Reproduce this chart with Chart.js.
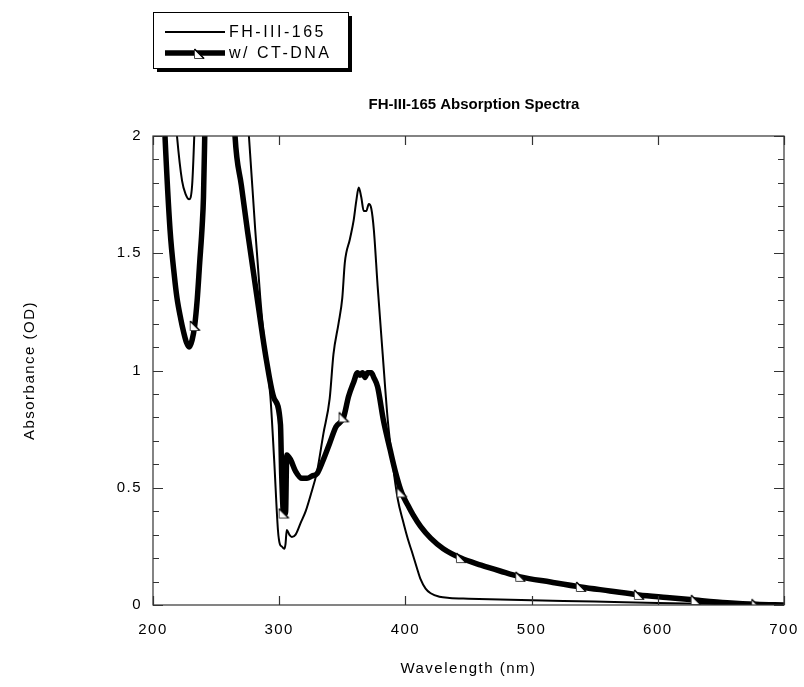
<!DOCTYPE html>
<html>
<head>
<meta charset="utf-8">
<script src="https://cdn.jsdelivr.net/npm/chart.js@4.4.1/dist/chart.umd.min.js"></script>
<style>
  html, body { margin: 0; padding: 0; background: #fff; }
</style>
</head>
<body>
<canvas id="spectraChart" width="804" height="687"></canvas>
<script>
// FH-III-165 alone
const fhWavelength = [212, 219, 223, 226, 228.6, 231, 232.7, 236, 250, 270, 276, 281, 285, 289, 293, 296, 299, 300.5, 302, 304, 305, 306, 308, 310, 313, 317, 321, 325, 330, 335, 340, 343, 347, 350, 352, 356, 359, 361, 363, 365, 367, 369, 371, 373, 375, 378, 382, 386, 390, 394, 398, 402, 405, 409, 412, 416, 420, 427, 435, 450, 500, 550, 600, 650, 700];
const fhAbs = [2.5, 2.0, 1.81, 1.75, 1.73, 1.79, 2.0, 2.6, 3.0, 2.4, 2.0, 1.6, 1.31, 1.08, 0.89, 0.62, 0.32, 0.26, 0.25, 0.24, 0.26, 0.32, 0.30, 0.29, 0.30, 0.35, 0.40, 0.47, 0.57, 0.73, 0.88, 1.07, 1.2, 1.31, 1.46, 1.56, 1.64, 1.72, 1.78, 1.74, 1.68, 1.68, 1.71, 1.69, 1.6, 1.36, 1.07, 0.79, 0.6, 0.45, 0.36, 0.28, 0.23, 0.16, 0.11, 0.07, 0.05, 0.035, 0.03, 0.027, 0.02, 0.015, 0.008, 0.004, 0.0];

// with CT-DNA
const dnaWavelength = [205, 209.5, 213.5, 217, 219, 222, 224, 226.5, 228.6, 231, 233, 235, 237, 239, 240, 241, 243, 255, 262, 265, 270, 275, 282.5, 290, 296, 301, 302, 303.5, 305, 306, 309, 313, 318, 322, 326, 330, 335, 340, 345, 351, 355, 359, 362, 364, 366, 368, 370, 373, 375, 378, 382.5, 388, 392, 397, 402, 406, 412, 420, 430, 444, 460, 475, 491, 515, 539, 562, 585, 607, 630, 655, 678, 700];
const dnaAbs = [2.6, 2.0, 1.6, 1.4, 1.31, 1.22, 1.17, 1.12, 1.10, 1.13, 1.19, 1.3, 1.46, 1.62, 1.74, 2.0, 2.6, 3.0, 2.4, 2.0, 1.79, 1.59, 1.31, 1.04, 0.88, 0.77, 0.55, 0.39, 0.39, 0.64, 0.62, 0.57, 0.54, 0.54, 0.55, 0.56, 0.62, 0.69, 0.76, 0.80, 0.89, 0.95, 0.99, 0.98, 0.99, 0.97, 0.99, 0.99, 0.97, 0.93, 0.79, 0.66, 0.57, 0.48, 0.425, 0.385, 0.335, 0.285, 0.24, 0.20, 0.17, 0.145, 0.12, 0.098, 0.077, 0.06, 0.043, 0.032, 0.021, 0.01, 0.003, 0.0];
const dnaMarkerWl = [233, 303.5, 351, 397, 444, 491, 539, 585, 630, 678];

const seriesLabels = ['FH-III-165', 'w/ CT-DNA'];
const chartTitle = 'FH-III-165 Absorption Spectra';
const xTickValues = [200, 300, 400, 500, 600, 700];
const yTickValues = [0, 0.5, 1, 1.5, 2];
const yTickLabels = ['0', '0.5', '1', '1.5', '2'];

const FONT = '"Liberation Sans", Arial, sans-serif';

function makeTriangle() {
    const c = document.createElement('canvas');
    c.width = 12;
    c.height = 12;
    const g = c.getContext('2d');
    g.beginPath();
    g.moveTo(1.5, 1);
    g.lineTo(1.5, 10.5);
    g.lineTo(11, 10.5);
    g.closePath();
    g.fillStyle = '#fff';
    g.fill();
    g.strokeStyle = '#444';
    g.lineWidth = 1;
    g.stroke();
    g.beginPath();
    g.moveTo(1.5, 1);
    g.lineTo(11, 10.5);
    g.strokeStyle = '#000';
    g.lineWidth = 1.5;
    g.stroke();
    return c;
}
const triangle = makeTriangle();

function toPoints(xs, ys) {
    return xs.map((x, i) => ({ x: x, y: ys[i] }));
}

// text spacing like the original print
const spacingPlugin = {
    id: 'spacing',
    beforeDraw(chart) {
        chart.ctx.letterSpacing = '1.5px';
    }
};

// box frame with inward ticks on all four sides
const framePlugin = {
    id: 'frame',
    afterDraw(chart) {
        const ctx = chart.ctx;
        const a = chart.chartArea;
        const xs = chart.scales.x;
        const ys = chart.scales.y;
        ctx.save();
        ctx.strokeStyle = '#333';
        ctx.lineWidth = 1.2;
        ctx.strokeRect(a.left, a.top, a.right - a.left, a.bottom - a.top);
        ctx.beginPath();
        xTickValues.forEach(v => {
            const px = Math.round(xs.getPixelForValue(v)) + 0.5;
            ctx.moveTo(px, a.bottom);
            ctx.lineTo(px, a.bottom - 9);
            ctx.moveTo(px, a.top);
            ctx.lineTo(px, a.top + 9);
        });
        for (let i = 0; i <= 20; i++) {
            const v = i / 10;
            const len = (i % 5 === 0) ? 10 : 6;
            const py = Math.round(ys.getPixelForValue(v)) + 0.5;
            ctx.moveTo(a.left, py);
            ctx.lineTo(a.left + len, py);
            ctx.moveTo(a.right, py);
            ctx.lineTo(a.right - len, py);
        }
        ctx.stroke();

        // title
        ctx.letterSpacing = '0px';
        ctx.font = 'bold 15px ' + FONT;
        ctx.fillStyle = '#000';
        ctx.textAlign = 'center';
        ctx.textBaseline = 'middle';
        ctx.fillText(chartTitle, 474, 105);
        ctx.restore();
    }
};

// legend box with drop shadow
const legendPlugin = {
    id: 'boxLegend',
    afterDraw(chart) {
        const ctx = chart.ctx;
        const bx = 153, by = 12, bw = 195, bh = 56;
        ctx.save();
        ctx.fillStyle = '#000';
        ctx.fillRect(bx + 4, by + 4, bw, bh);
        ctx.fillStyle = '#fff';
        ctx.fillRect(bx, by, bw, bh);
        ctx.strokeStyle = '#000';
        ctx.lineWidth = 1;
        ctx.strokeRect(bx + 0.5, by + 0.5, bw, bh);

        const ds = chart.data.datasets;
        const rows = [
            { y: 32, width: ds[1].borderWidth, text: ds[1].label, marker: false },
            { y: 53, width: ds[0].borderWidth, text: ds[0].label, marker: true }
        ];
        ctx.font = '16px ' + FONT;
        ctx.letterSpacing = '2.5px';
        ctx.textAlign = 'left';
        ctx.textBaseline = 'middle';
        ctx.fillStyle = '#000';
        rows.forEach(r => {
            ctx.beginPath();
            ctx.moveTo(165, r.y);
            ctx.lineTo(225, r.y);
            ctx.lineWidth = r.width;
            ctx.strokeStyle = '#000';
            ctx.stroke();
            if (r.marker) {
                ctx.drawImage(triangle, 193, r.y - 5);
            }
            ctx.fillText(r.text, 229, r.y + 1);
        });
        ctx.restore();
    }
};

const ctx = document.getElementById('spectraChart').getContext('2d');
const spectraChart = new Chart(ctx, {
    type: 'line',
    data: {
        datasets: [
            {
                label: seriesLabels[1],
                data: toPoints(dnaWavelength, dnaAbs),
                borderColor: '#000',
                borderWidth: 5.5,
                cubicInterpolationMode: 'monotone',
                clip: 0,
                pointStyle: c => dnaMarkerWl.includes(c.raw && c.raw.x) ? triangle : 'circle',
                pointRadius: c => dnaMarkerWl.includes(c.raw && c.raw.x) ? 5 : 0,
                pointHoverRadius: 0
            },
            {
                label: seriesLabels[0],
                data: toPoints(fhWavelength, fhAbs),
                borderColor: '#000',
                borderWidth: 2,
                cubicInterpolationMode: 'monotone',
                clip: 0,
                pointRadius: 0,
                pointHoverRadius: 0
            }
        ]
    },
    options: {
        responsive: false,
        animation: false,
        events: [],
        layout: {
            padding: { left: 0, right: 20, top: 136, bottom: 0 }
        },
        plugins: {
            legend: { display: false },
            tooltip: { enabled: false },
            title: { display: false }
        },
        scales: {
            x: {
                type: 'linear',
                min: 200,
                max: 700,
                afterFit: function(scale) {
                    scale.height = 82;
                    scale.paddingLeft = 0;
                    scale.paddingRight = 0;
                },
                afterBuildTicks: function(scale) {
                    scale.ticks = xTickValues.map(v => ({ value: v }));
                },
                grid: { display: false, drawTicks: false },
                border: { display: false },
                ticks: {
                    color: '#000',
                    padding: 16,
                    maxRotation: 0,
                    font: { family: FONT, size: 15 }
                },
                title: {
                    display: true,
                    text: 'Wavelength (nm)',
                    color: '#000',
                    font: { family: FONT, size: 15 },
                    padding: { top: 0, bottom: 9 }
                }
            },
            y: {
                type: 'linear',
                min: 0,
                max: 2,
                afterFit: function(scale) {
                    scale.width = 153;
                    scale.paddingTop = 0;
                    scale.paddingBottom = 0;
                },
                afterBuildTicks: function(scale) {
                    scale.ticks = yTickValues.map(v => ({ value: v }));
                },
                grid: { display: false, drawTicks: false },
                border: { display: false },
                ticks: {
                    color: '#000',
                    padding: 11,
                    font: { family: FONT, size: 15 },
                    callback: function(value) {
                        const i = yTickValues.indexOf(value);
                        return i >= 0 ? yTickLabels[i] : '';
                    }
                },
                title: {
                    display: true,
                    text: 'Absorbance (OD)',
                    color: '#000',
                    font: { family: FONT, size: 15 },
                    padding: { top: 21, bottom: 0 }
                }
            }
        }
    },
    plugins: [spacingPlugin, framePlugin, legendPlugin]
});
</script>
</body>
</html>
